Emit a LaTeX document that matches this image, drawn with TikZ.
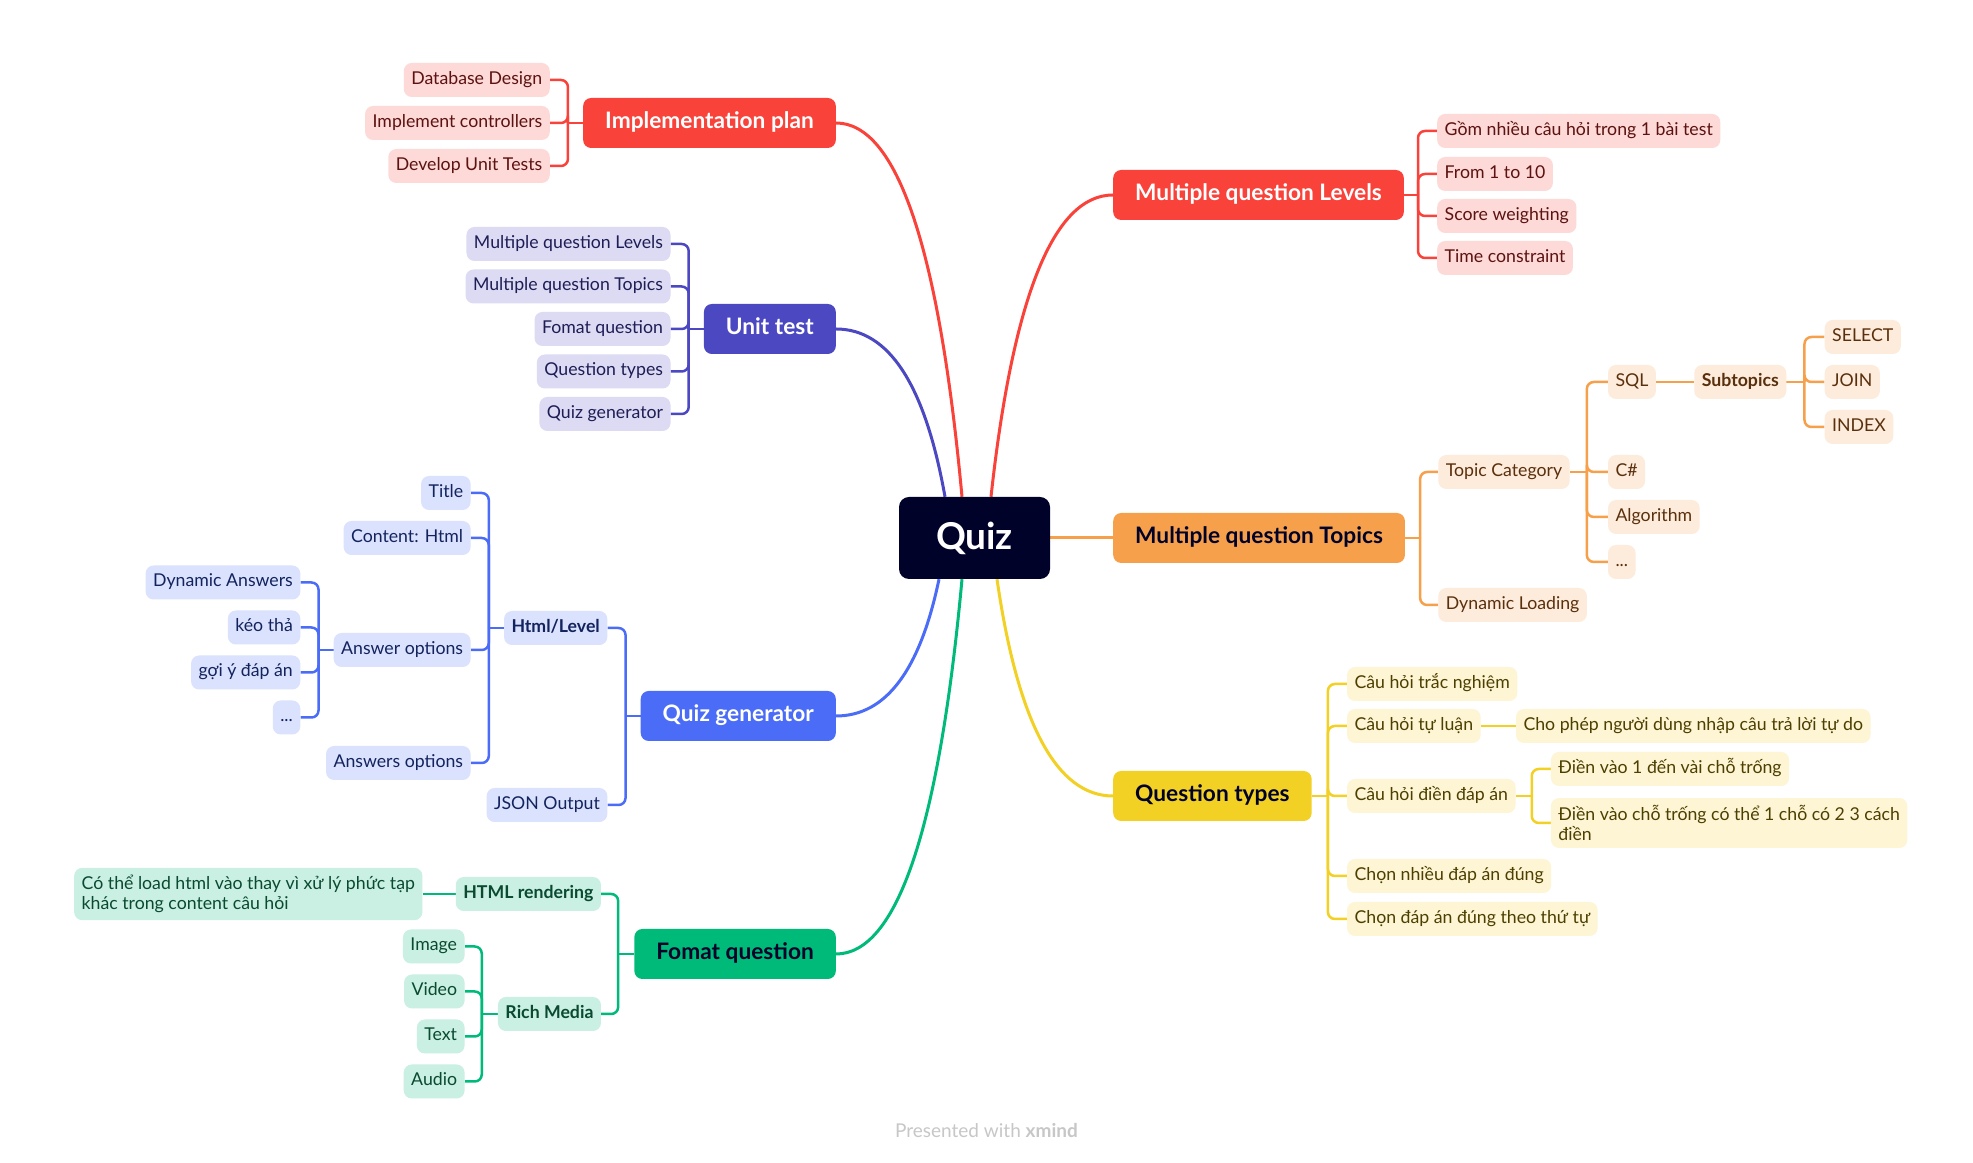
\documentclass[tikz,border=0pt]{standalone}
\usepackage{fontspec}
\setmainfont{Lato}
\usetikzlibrary{positioning, backgrounds}

\definecolor{xnavy}{HTML}{000229}
\definecolor{xred}{HTML}{F9423A}
\definecolor{xredlt}{HTML}{FDD9D7}
\definecolor{xredtx}{HTML}{5C1210}
\definecolor{xpurple}{HTML}{4B48C2}
\definecolor{xpurplelt}{HTML}{DCDBF3}
\definecolor{xpurpletx}{HTML}{1F1D55}
\definecolor{xblue}{HTML}{4A6CF7}
\definecolor{xbluelt}{HTML}{DBE2FD}
\definecolor{xbluetx}{HTML}{13235E}
\definecolor{xgreen}{HTML}{00BA7A}
\definecolor{xgreenlt}{HTML}{C9F0E2}
\definecolor{xgreentx}{HTML}{0A4A31}
\definecolor{xorange}{HTML}{F7A04B}
\definecolor{xorangelt}{HTML}{FDEBDC}
\definecolor{xorangetx}{HTML}{5A300C}
\definecolor{xyellow}{HTML}{F2D024}
\definecolor{xyellowlt}{HTML}{FDF5D4}
\definecolor{xyellowtx}{HTML}{4D3F00}

\begin{document}
\begin{tikzpicture}[
        x=1pt, y=1pt,
        topic/.style={
            rounded corners=8pt, inner xsep=22pt, inner ysep=0pt, minimum height=50pt,
            text height=16pt, text depth=4.5pt, font=\fontsize{22.7}{26}\selectfont\bfseries
        },
        leaf/.style={rounded corners=8pt, inner xsep=7.5pt, font=\fontsize{17.7}{20.5}\selectfont},
        sub/.style={leaf, inner ysep=0pt, minimum height=34pt, text height=13pt, text depth=4pt},
        subtwo/.style={leaf, inner ysep=7pt, align=left},
        boldsub/.style={font=\fontsize{17.7}{20.5}\selectfont\bfseries},
        curve/.style={line width=3pt},
        % one set of styles per branch colour
        redtopic/.style={topic, fill=xred, text=white},
        redsub/.style={sub, fill=xredlt, text=xredtx},
        redln/.style={draw=xred, line width=2.5pt, rounded corners=7pt},
        purpletopic/.style={topic, fill=xpurple, text=white},
        purplesub/.style={sub, fill=xpurplelt, text=xpurpletx},
        purpleln/.style={draw=xpurple, line width=2.5pt, rounded corners=7pt},
        bluetopic/.style={topic, fill=xblue, text=white},
        bluesub/.style={sub, fill=xbluelt, text=xbluetx},
        blueln/.style={draw=xblue, line width=2.5pt, rounded corners=7pt},
        greentopic/.style={topic, fill=xgreen, text=xnavy},
        greensub/.style={sub, fill=xgreenlt, text=xgreentx},
        greenln/.style={draw=xgreen, line width=2.5pt, rounded corners=7pt},
        orangetopic/.style={topic, fill=xorange, text=xnavy},
        orangesub/.style={sub, fill=xorangelt, text=xorangetx},
        orangeln/.style={draw=xorange, line width=2.5pt, rounded corners=7pt},
        yellowtopic/.style={topic, fill=xyellow, text=xnavy},
        yellowsub/.style={sub, fill=xyellowlt, text=xyellowtx},
        yellowln/.style={draw=xyellow, line width=2.5pt, rounded corners=7pt}
    ]
        \useasboundingbox (0,0) rectangle (1973,1162);

        % Central topic
        \node[fill=xnavy, text=white, rounded corners=10pt, minimum width=151pt, minimum height=82pt,
            font=\fontsize{37}{40}\selectfont\bfseries] (quiz) at (974.5,624) {Quiz};

        % Main topics
        \node[redtopic, anchor=east] (impl) at (836,1039) {Implementation plan};
        \node[purpletopic, anchor=east] (unit) at (836,833) {Unit test};
        \node[bluetopic, anchor=east] (qgen) at (836,446) {Quiz generator};
        \node[greentopic, anchor=east] (fomat) at (836,208) {Fomat question};
        \node[redtopic, anchor=west] (levels) at (1113,967) {Multiple question Levels};
        \node[orangetopic, anchor=west] (topics) at (1113,624) {Multiple question Topics};
        \node[yellowtopic, anchor=west] (qtypes) at (1113,366) {Question types};

        % Implementation plan
        \node[redsub, anchor=east] (dbdesign) at ([xshift=-33pt, yshift=43pt]impl.west) {Database Design};
        \node[redsub, anchor=east] (implctl) at ([xshift=-33pt]impl.west) {Implement controllers};
        \node[redsub, anchor=east] (devtest) at ([xshift=-33pt, yshift=-43pt]impl.west) {Develop Unit Tests};

        % Unit test
        \node[purplesub, anchor=east] (utlevels) at ([xshift=-33pt, yshift=85pt]unit.west) {Multiple question Levels};
        \node[purplesub, anchor=east] (uttopics) at ([xshift=-33pt, yshift=42.5pt]unit.west) {Multiple question Topics};
        \node[purplesub, anchor=east] (utfomat) at ([xshift=-33pt]unit.west) {Fomat question};
        \node[purplesub, anchor=east] (uttypes) at ([xshift=-33pt, yshift=-42.5pt]unit.west) {Question types};
        \node[purplesub, anchor=east] (utqgen) at ([xshift=-33pt, yshift=-85pt]unit.west) {Quiz generator};

        % Quiz generator
        \node[bluesub, boldsub, anchor=east] (htmllevel) at ([xshift=-33pt, yshift=88pt]qgen.west) {Html/Level};
        \node[bluesub, anchor=east] (json) at ([xshift=-33pt, yshift=-89pt]qgen.west) {JSON Output};
        \node[bluesub, anchor=east] (title) at ([xshift=-33pt, yshift=135pt]htmllevel.west) {Title};
        \node[bluesub, anchor=east] (content) at ([xshift=-33pt, yshift=90pt]htmllevel.west) {Content: Html};
        \node[bluesub, anchor=east] (ansopt) at ([xshift=-33pt, yshift=-22pt]htmllevel.west) {Answer options};
        \node[bluesub, anchor=east] (answersopt) at ([xshift=-33pt, yshift=-135pt]htmllevel.west) {Answers options};
        \node[bluesub, anchor=east] (dynans) at ([xshift=-33pt, yshift=67.5pt]ansopt.west) {Dynamic Answers};
        \node[bluesub, anchor=east] (keotha) at ([xshift=-33pt, yshift=22.5pt]ansopt.west) {kéo thả};
        \node[bluesub, anchor=east] (goiy) at ([xshift=-33pt, yshift=-22.5pt]ansopt.west) {gợi ý đáp án};
        \node[bluesub, anchor=east] (ansdots) at ([xshift=-33pt, yshift=-67.5pt]ansopt.west) {...};

        % Fomat question
        \node[greensub, boldsub, anchor=east] (htmlrender) at ([xshift=-33pt, yshift=60pt]fomat.west) {HTML rendering};
        \node[greensub, boldsub, anchor=east] (richmedia) at ([xshift=-33pt, yshift=-60pt]fomat.west) {Rich Media};
        \node[subtwo, fill=xgreenlt, text=xgreentx, anchor=east] (loadhtml) at ([xshift=-33pt]htmlrender.west)
            {Có thể load html vào thay vì xử lý phức tạp\\khác trong content câu hỏi};
        \node[greensub, anchor=east] (image) at ([xshift=-33pt, yshift=67.5pt]richmedia.west) {Image};
        \node[greensub, anchor=east] (video) at ([xshift=-33pt, yshift=22.5pt]richmedia.west) {Video};
        \node[greensub, anchor=east] (textmedia) at ([xshift=-33pt, yshift=-22.5pt]richmedia.west) {Text};
        \node[greensub, anchor=east] (audio) at ([xshift=-33pt, yshift=-67.5pt]richmedia.west) {Audio};

        % Multiple question Levels
        \node[redsub, anchor=west] (gom) at ([xshift=33pt, yshift=64pt]levels.east) {Gồm nhiều câu hỏi trong 1 bài test};
        \node[redsub, anchor=west] (range) at ([xshift=33pt, yshift=21pt]levels.east) {From 1 to 10};
        \node[redsub, anchor=west] (score) at ([xshift=33pt, yshift=-21pt]levels.east) {Score weighting};
        \node[redsub, anchor=west] (timec) at ([xshift=33pt, yshift=-63pt]levels.east) {Time constraint};

        % Multiple question Topics
        \node[orangesub, anchor=west] (topiccat) at ([xshift=33pt, yshift=66pt]topics.east) {Topic Category};
        \node[orangesub, anchor=west] (dynload) at ([xshift=33pt, yshift=-67pt]topics.east) {Dynamic Loading};
        \node[orangesub, anchor=west] (sql) at ([xshift=38pt, yshift=90pt]topiccat.east) {SQL};
        \node[orangesub, anchor=west] (csharp) at ([xshift=38pt]topiccat.east) {C\#};
        \node[orangesub, anchor=west] (algo) at ([xshift=38pt, yshift=-45pt]topiccat.east) {Algorithm};
        \node[orangesub, anchor=west] (tcdots) at ([xshift=38pt, yshift=-90pt]topiccat.east) {...};
        \node[orangesub, boldsub, anchor=west] (subtopics) at ([xshift=38pt]sql.east) {Subtopics};
        \node[orangesub, anchor=west] (select) at ([xshift=38pt, yshift=45pt]subtopics.east) {SELECT};
        \node[orangesub, anchor=west] (join) at ([xshift=38pt]subtopics.east) {JOIN};
        \node[orangesub, anchor=west] (index) at ([xshift=38pt, yshift=-45pt]subtopics.east) {INDEX};

        % Question types
        \node[yellowsub, anchor=west] (tracnghiem) at ([xshift=35pt, yshift=112pt]qtypes.east) {Câu hỏi trắc nghiệm};
        \node[yellowsub, anchor=west] (tuluan) at ([xshift=35pt, yshift=70pt]qtypes.east) {Câu hỏi tự luận};
        \node[yellowsub, anchor=west] (chophep) at ([xshift=35pt]tuluan.east) {Cho phép người dùng nhập câu trả lời tự do};
        \node[yellowsub, anchor=west] (diendapan) at ([xshift=35pt]qtypes.east) {Câu hỏi điền đáp án};
        \node[yellowsub, anchor=west] (dienmot) at ([xshift=35pt, yshift=27pt]diendapan.east) {Điền vào 1 đến vài chỗ trống};
        \node[subtwo, fill=xyellowlt, text=xyellowtx, anchor=west] (dienhai) at ([xshift=35pt, yshift=-27pt]diendapan.east)
            {Điền vào chỗ trống có thể 1 chỗ có 2 3 cách\\điền};
        \node[yellowsub, anchor=west] (chonnhieu) at ([xshift=35pt, yshift=-80pt]qtypes.east) {Chọn nhiều đáp án đúng};
        \node[yellowsub, anchor=west] (thutu) at ([xshift=35pt, yshift=-123pt]qtypes.east) {Chọn đáp án đúng theo thứ tự};

        % Footer
        \node[text=black!22, font=\fontsize{19}{21}\selectfont] (footer) at (986.5,31) {Presented with \textbf{xmind}};

        \begin{scope}[on background layer]
            \fill[white] (0,0) rectangle (1973,1162);

            % Branches from the central topic
            \draw[curve, xred] ([xshift=-12.5pt]quiz.north) .. controls +(-23,249) and +(61,0) .. (impl.east);
            \draw[curve, xpurple] ([xshift=-29.5pt]quiz.north) .. controls +(-20,112) and +(53,0) .. (unit.east);
            \draw[curve, xred] ([xshift=16.5pt]quiz.north) .. controls +(22,201) and +(-59,0) .. (levels.west);
            \draw[curve, xblue] ([xshift=-35.5pt]quiz.south) .. controls +(-19,-91) and +(50,0) .. (qgen.east);
            \draw[curve, xgreen] ([xshift=-12.5pt]quiz.south) .. controls +(-23,-250) and +(61,0) .. (fomat.east);
            \draw[curve, xyellow] ([xshift=22.5pt]quiz.south) .. controls +(21,-145) and +(-56,0) .. (qtypes.west);
            \draw[curve, xorange] (quiz.east) -- (topics.west);

            % Implementation plan
            \coordinate (implj) at ([xshift=-15pt]impl.west);
            \draw[redln] (impl.west) -- (implj);
            \draw[redln] (implj) |- (dbdesign.east);
            \draw[redln] (implj) |- (implctl.east);
            \draw[redln] (implj) |- (devtest.east);

            % Unit test
            \coordinate (unitj) at ([xshift=-15pt]unit.west);
            \draw[purpleln] (unit.west) -- (unitj);
            \draw[purpleln] (unitj) |- (utlevels.east);
            \draw[purpleln] (unitj) |- (uttopics.east);
            \draw[purpleln] (unitj) |- (utfomat.east);
            \draw[purpleln] (unitj) |- (uttypes.east);
            \draw[purpleln] (unitj) |- (utqgen.east);

            % Quiz generator
            \coordinate (qgenj) at ([xshift=-15pt]qgen.west);
            \draw[blueln] (qgen.west) -- (qgenj);
            \draw[blueln] (qgenj) |- (htmllevel.east);
            \draw[blueln] (qgenj) |- (json.east);
            \coordinate (htmllevelj) at ([xshift=-15pt]htmllevel.west);
            \draw[blueln] (htmllevel.west) -- (htmllevelj);
            \draw[blueln] (htmllevelj) |- (title.east);
            \draw[blueln] (htmllevelj) |- (content.east);
            \draw[blueln] (htmllevelj) |- (ansopt.east);
            \draw[blueln] (htmllevelj) |- (answersopt.east);
            \coordinate (ansoptj) at ([xshift=-15pt]ansopt.west);
            \draw[blueln] (ansopt.west) -- (ansoptj);
            \draw[blueln] (ansoptj) |- (dynans.east);
            \draw[blueln] (ansoptj) |- (keotha.east);
            \draw[blueln] (ansoptj) |- (goiy.east);
            \draw[blueln] (ansoptj) |- (ansdots.east);

            % Fomat question
            \coordinate (fomatj) at ([xshift=-16pt]fomat.west);
            \draw[greenln] (fomat.west) -- (fomatj);
            \draw[greenln] (fomatj) |- (htmlrender.east);
            \draw[greenln] (fomatj) |- (richmedia.east);
            \draw[greenln] (htmlrender.west) -- (loadhtml.east);
            \coordinate (richmediaj) at ([xshift=-16pt]richmedia.west);
            \draw[greenln] (richmedia.west) -- (richmediaj);
            \draw[greenln] (richmediaj) |- (image.east);
            \draw[greenln] (richmediaj) |- (video.east);
            \draw[greenln] (richmediaj) |- (textmedia.east);
            \draw[greenln] (richmediaj) |- (audio.east);

            % Multiple question Levels
            \coordinate (levelsj) at ([xshift=14pt]levels.east);
            \draw[redln] (levels.east) -- (levelsj);
            \draw[redln] (levelsj) |- (gom.west);
            \draw[redln] (levelsj) |- (range.west);
            \draw[redln] (levelsj) |- (score.west);
            \draw[redln] (levelsj) |- (timec.west);

            % Multiple question Topics
            \coordinate (topicsj) at ([xshift=15pt]topics.east);
            \draw[orangeln] (topics.east) -- (topicsj);
            \draw[orangeln] (topicsj) |- (topiccat.west);
            \draw[orangeln] (topicsj) |- (dynload.west);
            \coordinate (topiccatj) at ([xshift=17pt]topiccat.east);
            \draw[orangeln] (topiccat.east) -- (topiccatj);
            \draw[orangeln] (topiccatj) |- (sql.west);
            \draw[orangeln] (topiccatj) |- (csharp.west);
            \draw[orangeln] (topiccatj) |- (algo.west);
            \draw[orangeln] (topiccatj) |- (tcdots.west);
            \draw[orangeln] (sql.east) -- (subtopics.west);
            \coordinate (subtopicsj) at ([xshift=18pt]subtopics.east);
            \draw[orangeln] (subtopics.east) -- (subtopicsj);
            \draw[orangeln] (subtopicsj) |- (select.west);
            \draw[orangeln] (subtopicsj) |- (join.west);
            \draw[orangeln] (subtopicsj) |- (index.west);

            % Question types
            \coordinate (qtypesj) at ([xshift=16pt]qtypes.east);
            \draw[yellowln] (qtypes.east) -- (qtypesj);
            \draw[yellowln] (qtypesj) |- (tracnghiem.west);
            \draw[yellowln] (qtypesj) |- (tuluan.west);
            \draw[yellowln] (qtypesj) |- (diendapan.west);
            \draw[yellowln] (qtypesj) |- (chonnhieu.west);
            \draw[yellowln] (qtypesj) |- (thutu.west);
            \draw[yellowln] (tuluan.east) -- (chophep.west);
            \coordinate (diendapanj) at ([xshift=16pt]diendapan.east);
            \draw[yellowln] (diendapan.east) -- (diendapanj);
            \draw[yellowln] (diendapanj) |- (dienmot.west);
            \draw[yellowln] (diendapanj) |- (dienhai.west);
        \end{scope}

    \end{tikzpicture}
\end{document}
